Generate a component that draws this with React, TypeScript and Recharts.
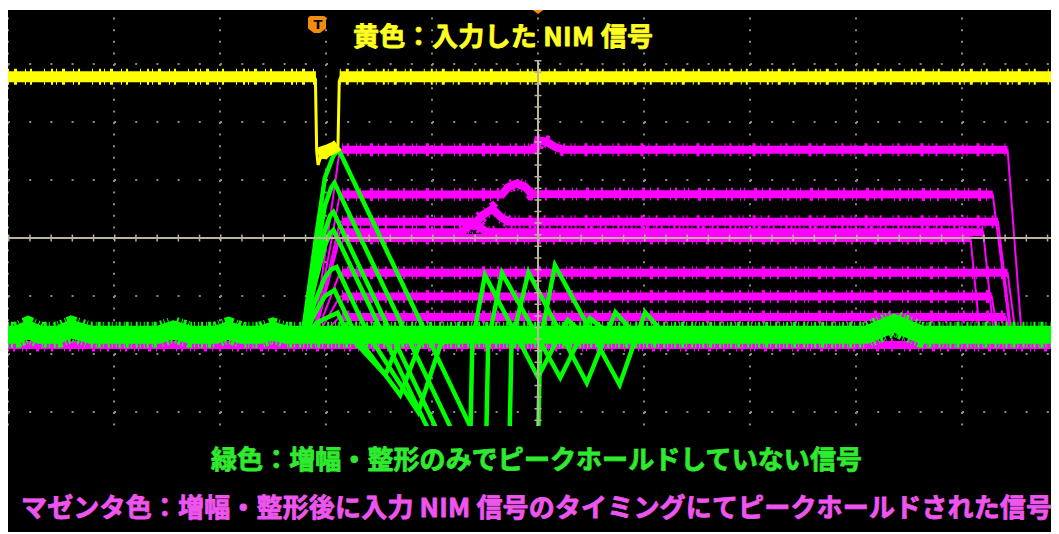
import React from 'react';
import { LineChart, Line, XAxis, YAxis, CartesianGrid, ReferenceLine, ReferenceDot } from 'recharts';

type Pt = { t: number; v: number };

// Screen graticule: 10 horizontal divisions, 8 vertical divisions, centre at (5, 0)
const xTicks = [0, 1, 2, 3, 4, 5, 6, 7, 8, 9, 10];
const yTicks = [-4, -3, -2, -1, 0, 1, 2, 3, 4];

// CH1 (yellow): NIM logic input
const nimLevel = 2.78;
const nimFallT = 2.905;
const nimRiseT = 3.13;
const nimEdge: Pt[] = [
  { t: 2.88, v: 2.78 }, { t: 2.9, v: 2.74 }, { t: 2.912, v: 1.5 }, { t: 2.925, v: 1.26 },
  { t: 2.95, v: 1.4 }, { t: 3.0, v: 1.38 }, { t: 3.05, v: 1.48 }, { t: 3.09, v: 1.54 },
  { t: 3.113, v: 1.6 }, { t: 3.125, v: 2.7 }, { t: 3.14, v: 2.78 },
];
const nimLow: Pt[] = [
  { t: 2.925, v: 1.45 }, { t: 2.98, v: 1.49 }, { t: 3.03, v: 1.52 }, { t: 3.08, v: 1.56 }, { t: 3.11, v: 1.6 },
];
const triggerT = 2.915;

// CH3 (magenta): peak-hold output, one trace per captured event
const holdBase = -1.845;
const holdLevels = [1.52, 0.75, 0.28, 0.1, 0.0, -0.6, -1.01, -1.36];
const holdRiseStart = 2.87;
const holdRiseEnd = 3.13;
const holdFallStart = [9.43, 9.29, 9.34, 9.2, 9.08, 9.43, 9.28, 9.41];
const holdFallEnd = [9.57, 9.47, 9.48, 9.31, 9.18, 9.52, 9.36, 9.5];
const holdBumps: Pt[][] = [
  [{ t: 4.98, v: 1.52 }, { t: 5.0, v: 1.68 }, { t: 5.08, v: 1.66 }, { t: 5.16, v: 1.57 }, { t: 5.24, v: 1.52 }],
  [{ t: 4.66, v: 0.75 }, { t: 4.72, v: 0.88 }, { t: 4.8, v: 0.94 }, { t: 4.88, v: 0.88 }, { t: 4.94, v: 0.76 }],
  [{ t: 4.42, v: 0.28 }, { t: 4.48, v: 0.4 }, { t: 4.57, v: 0.5 }, { t: 4.65, v: 0.36 }, { t: 4.72, v: 0.28 }],
  [{ t: 4.28, v: 0.1 }, { t: 4.36, v: 0.22 }, { t: 4.44, v: 0.2 }, { t: 4.52, v: 0.1 }],
  [], [], [], [],
];

// CH2 (green): shaper output without peak hold
const shaperBase: Pt[] = [
  { t: 0, v: -1.67 }, { t: 0.08, v: -1.67 }, { t: 0.19, v: -1.58 }, { t: 0.3, v: -1.67 },
  { t: 0.47, v: -1.67 }, { t: 0.6, v: -1.57 }, { t: 0.78, v: -1.67 }, { t: 1.42, v: -1.67 },
  { t: 1.56, v: -1.58 }, { t: 1.72, v: -1.67 }, { t: 1.96, v: -1.67 }, { t: 2.08, v: -1.59 },
  { t: 2.2, v: -1.67 }, { t: 2.38, v: -1.67 }, { t: 2.5, v: -1.6 }, { t: 2.62, v: -1.67 },
  { t: 8.1, v: -1.67 }, { t: 8.36, v: -1.47 }, { t: 8.62, v: -1.67 }, { t: 10, v: -1.67 },
];
const shapedPulses: Pt[][] = [
  [{ t: 2.78, v: -1.67 }, { t: 2.9, v: -0.07 }, { t: 2.99, v: 1.04 }, { t: 3.07, v: 1.42 }, { t: 3.12, v: 1.52 },
   { t: 4.4, v: -3.4 }, { t: 4.6, v: -3.6 }, { t: 5.0, v: -3.6 }, { t: 5.02, v: -1.8 }, { t: 5.16, v: -0.47 },
   { t: 5.77, v: -2.53 }, { t: 6.01, v: -1.28 }, { t: 6.2, v: -1.67 }],
  [{ t: 2.78, v: -1.67 }, { t: 2.9, v: -0.36 }, { t: 2.99, v: 0.56 }, { t: 3.05, v: 0.87 }, { t: 3.08, v: 0.95 },
   { t: 4.21, v: -3.4 }, { t: 4.4, v: -3.6 }, { t: 4.73, v: -3.6 }, { t: 4.75, v: -1.8 }, { t: 4.91, v: -0.59 },
   { t: 5.46, v: -2.5 }, { t: 5.73, v: -1.28 }, { t: 5.92, v: -1.67 }],
  [{ t: 2.78, v: -1.67 }, { t: 2.9, v: -0.61 }, { t: 2.99, v: 0.13 }, { t: 3.04, v: 0.39 }, { t: 3.07, v: 0.45 },
   { t: 4.07, v: -3.4 }, { t: 4.2, v: -3.6 }, { t: 4.51, v: -3.6 }, { t: 4.53, v: -1.8 }, { t: 4.66, v: -0.6 },
   { t: 5.21, v: -2.41 }, { t: 5.49, v: -1.38 }, { t: 5.68, v: -1.67 }],
  [{ t: 2.78, v: -1.67 }, { t: 2.9, v: -0.76 }, { t: 2.99, v: -0.13 }, { t: 3.04, v: 0.09 }, { t: 3.07, v: 0.14 },
   { t: 3.99, v: -3.4 }, { t: 4.1, v: -3.6 }, { t: 4.36, v: -3.6 }, { t: 4.38, v: -1.8 }, { t: 4.5, v: -0.64 },
   { t: 5.0, v: -2.4 }, { t: 5.28, v: -1.41 }, { t: 5.44, v: -1.67 }],
  [{ t: 2.78, v: -1.67 }, { t: 2.9, v: -1.08 }, { t: 2.99, v: -0.68 }, { t: 3.05, v: -0.54 }, { t: 3.1, v: -0.5 },
   { t: 3.4, v: -1.67 }, { t: 3.87, v: -3.0 }, { t: 4.08, v: -1.84 }, { t: 4.2, v: -1.67 }],
  [{ t: 2.8, v: -1.67 }, { t: 2.9, v: -1.28 }, { t: 2.99, v: -1.0 }, { t: 3.08, v: -0.9 }, { t: 3.28, v: -1.67 },
   { t: 3.7, v: -2.71 }, { t: 3.89, v: -1.8 }, { t: 4.0, v: -1.67 }],
  [{ t: 2.8, v: -1.67 }, { t: 2.92, v: -1.45 }, { t: 3.11, v: -1.29 }, { t: 3.21, v: -1.67 }, { t: 3.56, v: -2.36 },
   { t: 3.7, v: -1.75 }, { t: 3.8, v: -1.67 }],
];

const titleText = '黄色：入力した NIM 信号';
const shaperText = '緑色：増幅・整形のみでピークホールドしていない信号';
const holdText = 'マゼンタ色：増幅・整形後に入力 NIM 信号のタイミングにてピークホールドされた信号';

const YELLOW = '#FFFF00';
const MAGENTA = '#FF00FF';
const GREEN = '#00FF00';
const ORANGE = '#F28C0F';
const CROSS = '#BCB2A0';

// Assemble the hold traces from their levels and edge times
const holdTraces: Pt[][] = holdLevels.map((lv, i) => [
  { t: 0, v: holdBase },
  { t: holdRiseStart, v: holdBase },
  { t: holdRiseEnd, v: lv },
  ...holdBumps[i],
  { t: holdFallStart[i], v: lv },
  { t: holdFallEnd[i], v: holdBase },
  { t: 10, v: holdBase },
]);
const holdPlateaus: Pt[][] = holdLevels.map((lv, i) => [
  { t: holdRiseEnd + 0.02, v: lv },
  ...holdBumps[i],
  { t: holdFallStart[i], v: lv },
]);
const holdBaseLine: Pt[] = [{ t: 0, v: holdBase }, { t: 10, v: holdBase }];
const nimLeft: Pt[] = [{ t: 0, v: nimLevel }, { t: nimFallT, v: nimLevel }];
const nimRight: Pt[] = [{ t: nimRiseT, v: nimLevel }, { t: 10, v: nimLevel }];

const NOISE_M = '1 4 2 7 1 3 1 9 3 5 1 6 2 11';
const NOISE_G = '1 2 2 3 1 1 3 2 1 4 2 2 1 3';
const NOISE_Y = '1 5 3 8 1 4 2 12 1 6 2 3';

const line = (key: string, data: Pt[], color: string, width: number, dash?: string) => (
  <Line
    key={key}
    data={data}
    dataKey="v"
    type="linear"
    stroke={color}
    strokeWidth={width}
    strokeDasharray={dash}
    strokeLinecap="butt"
    strokeLinejoin="miter"
    dot={false}
    activeDot={false}
    isAnimationActive={false}
  />
);

const TriggerFlag = (p: any) => {
  const { cx, cy } = p;
  return (
    <g>
      <path
        d={`M${cx - 9},${cy - 5.5} Q${cx - 9},${cy - 8.5} ${cx - 6},${cy - 8.5} L${cx + 6},${cy - 8.5} Q${cx + 9},${cy - 8.5} ${cx + 9},${cy - 5.5} L${cx + 9},${cy + 4} L${cx + 3},${cy + 8.5} L${cx - 3},${cy + 8.5} L${cx - 9},${cy + 4} Z`}
        fill={ORANGE}
      />
      <text x={cx + 1} y={cy + 4.5} textAnchor="middle" fontSize={13} fontWeight={700} fill="#000" fontFamily="DejaVu Sans">T</text>
    </g>
  );
};
const PositionMark = (p: any) => {
  const { cx, cy } = p;
  return <path d={`M${cx},${cy - 6} L${cx + 8},${cy} L${cx},${cy + 6} L${cx - 8},${cy} Z`} fill={ORANGE} />;
};
const LevelMark = (p: any) => {
  const { cx, cy } = p;
  return <path d={`M${cx},${cy} L${cx + 9},${cy - 5} L${cx + 9},${cy + 5} Z`} fill={YELLOW} />;
};

export default function App() {
  return (
    <div style={{ position: 'relative', top: 2, width: 1051, height: 524, background: '#000', overflow: 'hidden' }}>
      <div style={{ position: 'absolute', left: 0, top: -4 }}>
        <LineChart width={1060} height={464} margin={{ top: 0, right: 0, bottom: 0, left: 0 }}>
          <XAxis type="number" dataKey="t" domain={[0, 10]} ticks={xTicks} hide allowDataOverflow />
          <YAxis type="number" dataKey="v" domain={[-4, 4]} ticks={yTicks} hide allowDataOverflow />
          <CartesianGrid horizontal vertical={false} stroke="#8a8a8a" strokeWidth={2} strokeDasharray="2 19.2" />
          <CartesianGrid horizontal={false} vertical stroke="#8a8a8a" strokeWidth={2} strokeDasharray="2 9.6" />

          {line('hold-base', holdBaseLine, MAGENTA, 8)}
          {line('hold-base-n', holdBaseLine, MAGENTA, 13, NOISE_M)}
          {holdTraces.map((d, i) => line(`hold-${i}`, d, MAGENTA, 2))}
          {holdPlateaus.map((d, i) => line(`hold-p-${i}`, d, MAGENTA, 8))}
          {holdPlateaus.map((d, i) => line(`hold-pn-${i}`, d, MAGENTA, 13, NOISE_M))}

          {line('shaper-base', shaperBase, GREEN, 18)}
          {line('shaper-base-n', shaperBase, GREEN, 26, NOISE_G)}
          {shapedPulses.map((d, i) => line(`shaper-${i}`, d, GREEN, 4.5))}

          {line('nim-left', nimLeft, YELLOW, 11)}
          {line('nim-left-n', nimLeft, YELLOW, 16, NOISE_Y)}
          {line('nim-right', nimRight, YELLOW, 11)}
          {line('nim-right-n', nimRight, YELLOW, 16, NOISE_Y)}
          {line('nim-edge', nimEdge, YELLOW, 3)}
          {line('nim-low', nimLow, YELLOW, 12)}

          <ReferenceLine y={0} stroke={CROSS} strokeWidth={2} />
          <ReferenceLine y={0} stroke={CROSS} strokeWidth={7} strokeDasharray="1.5 19.7" />
          <ReferenceLine segment={[{ x: 5, y: 3.07 }, { x: 5, y: -4 }]} stroke={CROSS} strokeWidth={2} />
          <ReferenceLine segment={[{ x: 5, y: 3.07 }, { x: 5, y: -4 }]} stroke={CROSS} strokeWidth={7} strokeDasharray="1.5 10.1" />

          <ReferenceDot x={triggerT} y={3.68} shape={TriggerFlag} />
          <ReferenceDot x={5} y={3.966} shape={PositionMark} />
          <ReferenceDot x={9.868} y={2.353} shape={LevelMark} />
        </LineChart>
      </div>
      <svg width={1051} height={524} style={{ position: 'absolute', left: 0, top: 0 }}>
        <rect x={0} y={416} width={1051} height={108} fill="#000" />
        <g fontFamily="'Noto Sans CJK JP', sans-serif" fontWeight={700} fontSize={26} strokeWidth={0.8} strokeLinejoin="round">
          <text x={345} y={36.4} fill="#FFFF22" stroke="#FFFF22" textLength={300} lengthAdjust="spacing">{titleText}</text>
          <text x={203} y={459.4} fill="#2FEA2F" stroke="#2FEA2F" textLength={651} lengthAdjust="spacing">{shaperText}</text>
          <text x={13} y={507.4} fill="#EE55EE" stroke="#EE55EE" textLength={1031} lengthAdjust="spacing">{holdText}</text>
        </g>
      </svg>
    </div>
  );
}
